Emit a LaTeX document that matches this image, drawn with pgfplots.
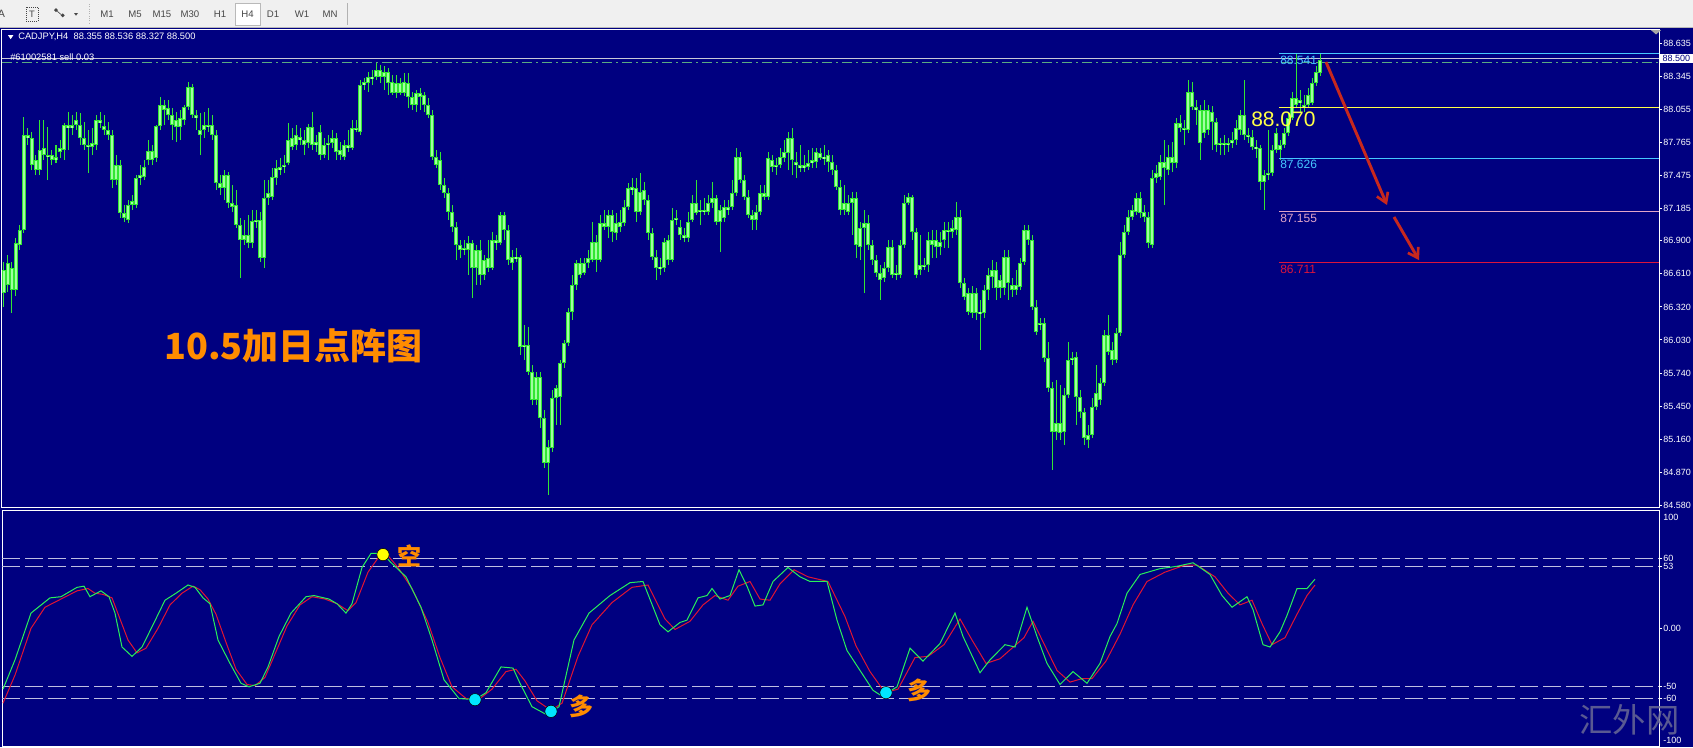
\documentclass[border=0pt]{standalone}
\usepackage{pgfplots}
\pgfplotsset{compat=1.18}
\usepackage{pgfplotstable}
\usepackage{fontspec}
\setmainfont{Liberation Sans}
\newfontfamily\cjk{Noto Sans CJK SC}
\usetikzlibrary{arrows.meta}

\definecolor{navy}{RGB}{0,0,128}
\definecolor{candle}{RGB}{50,230,50}
\definecolor{candlein}{RGB}{160,255,160}
\definecolor{fibcyan}{RGB}{70,200,255}
\definecolor{fibyellow}{RGB}{255,255,70}
\definecolor{fibpink}{RGB}{225,165,200}
\definecolor{fibred}{RGB}{220,20,60}
\definecolor{orderln}{RGB}{90,170,130}
\definecolor{bidln}{RGB}{200,200,215}
\definecolor{arrowred}{RGB}{200,40,30}
\definecolor{lvl}{RGB}{190,190,225}
\definecolor{stochg}{RGB}{40,240,90}
\definecolor{stochr}{RGB}{225,20,50}
\definecolor{dotcyan}{RGB}{0,230,255}
\definecolor{dotyellow}{RGB}{255,255,0}
\definecolor{orangetxt}{RGB}{255,140,0}
\definecolor{wm}{RGB}{105,105,150}
\definecolor{tbbg}{RGB}{240,240,240}
\definecolor{tbtext}{RGB}{70,70,70}

\newcommand{\tk}{\fontsize{6.75pt}{7pt}\selectfont}

% candles: x and y read in screen pixels of the reference (price = 88.635-(y-43)/114)
\pgfplotstableread{
x top bot hi lo
4 270 293 262 307
8 263 285 255 292
12 268 290 262 313
16 243 290 238 296
20 230 245 225 250
24 135 230 117 233
28 135 138 128 145
32 138 165 132 170
36 160 170 155 175
40 150 170 120 175
44 148 155 120 160
48 155 157 127 180
52 155 160 150 165
56 157 160 145 163
60 148 152 140 158
64 125 150 123 160
68 125 128 112 150
72 125 128 115 135
76 120 125 112 130
80 125 138 113 145
84 138 145 122 150
88 145 147 130 173
92 143 147 128 155
96 120 145 115 150
100 120 123 112 128
104 126 130 115 135
108 130 135 122 140
112 135 180 130 188
116 165 180 155 185
120 165 213 160 218
124 213 218 205 222
128 205 220 200 223
132 201 205 195 210
136 178 205 175 208
140 175 178 165 185
144 167 177 160 180
148 151 160 140 165
152 151 160 145 165
156 126 158 125 162
160 105 126 97 130
164 105 110 100 125
168 108 115 100 120
172 115 125 108 140
176 120 127 112 142
180 118 127 110 140
184 107 120 105 125
188 87 107 82 110
192 87 115 84 118
196 115 118 110 130
200 130 135 113 155
204 125 130 112 138
208 125 127 108 132
212 125 135 115 140
216 135 183 130 190
220 183 188 175 195
224 175 188 170 200
228 175 203 172 208
232 203 207 185 212
236 205 225 190 228
240 225 240 218 278
244 235 240 220 245
248 235 243 215 248
252 221 243 210 248
256 220 222 210 228
260 220 258 212 262
264 198 258 180 268
268 193 198 180 205
272 177 197 168 200
276 168 178 160 185
280 167 170 158 175
284 165 167 155 173
288 140 163 123 165
292 138 147 128 150
296 135 145 125 150
300 137 140 128 145
304 140 145 130 155
308 127 143 124 148
312 127 145 112 150
316 142 145 135 152
320 132 155 125 160
324 145 155 138 158
328 143 145 135 160
332 138 143 130 148
336 138 152 133 160
340 150 155 142 160
344 145 157 140 160
348 145 148 130 152
352 128 148 120 150
356 128 130 120 132
360 85 132 80 135
364 82 85 78 90
368 77 83 72 92
372 77 78 70 85
376 70 77 63 80
380 70 77 65 83
384 72 77 66 90
388 72 83 68 95
392 82 93 75 95
396 83 93 75 98
400 83 93 78 95
404 82 93 73 96
408 83 97 73 108
412 97 105 92 110
416 93 105 90 112
420 93 97 88 110
424 95 105 92 112
428 105 115 98 118
432 115 157 110 160
436 157 165 150 168
440 160 185 152 190
444 185 193 178 198
448 193 212 188 220
452 212 227 205 232
456 227 245 222 260
460 245 250 240 258
464 248 250 240 255
468 243 250 236 275
472 243 268 240 298
476 250 268 245 285
480 250 275 240 285
484 260 275 255 280
488 258 268 240 272
492 240 268 232 270
496 240 243 235 250
500 215 243 212 245
504 215 230 212 240
508 230 260 225 265
512 257 263 250 270
516 257 258 248 262
520 257 347 255 355
524 345 347 325 360
528 345 372 327 375
532 372 400 365 405
536 377 400 372 405
540 377 418 372 428
544 418 463 410 468
548 447 463 440 495
552 398 448 390 452
556 388 398 385 425
560 363 397 360 425
564 343 363 340 368
568 312 343 308 346
572 285 312 275 320
576 263 285 260 290
580 263 275 258 278
584 263 273 258 275
588 258 263 250 268
592 242 260 222 262
596 242 260 235 272
600 223 260 215 262
604 223 227 210 230
608 215 227 210 238
612 215 232 210 242
616 223 233 213 240
620 222 227 210 232
624 207 223 200 226
628 188 207 183 210
632 187 190 178 195
636 188 212 178 222
640 192 212 173 215
644 190 200 182 205
648 200 233 195 240
652 233 257 228 260
656 257 268 250 280
660 267 268 258 275
664 242 268 238 272
668 240 260 235 265
672 220 260 208 262
676 218 220 210 225
680 227 235 220 240
684 235 238 228 242
688 222 238 212 242
692 203 220 195 222
696 203 213 180 215
700 210 212 200 225
704 210 212 198 215
708 203 212 195 215
712 198 203 182 208
716 198 222 195 225
720 210 222 205 252
724 207 218 200 222
728 207 210 200 215
732 193 207 180 210
736 157 193 148 196
740 157 180 152 183
744 180 197 175 200
748 197 215 190 218
752 215 220 210 230
756 212 220 205 230
760 193 212 185 215
764 193 197 185 200
768 158 197 152 200
772 160 167 155 172
776 165 167 158 175
780 157 165 148 168
784 152 158 140 162
788 138 153 132 170
792 138 160 128 175
796 162 165 152 178
800 165 168 145 172
804 165 168 155 172
808 163 167 150 170
812 160 163 148 168
816 152 162 148 168
820 153 158 148 160
824 157 158 145 165
828 155 162 150 172
832 162 170 155 175
836 170 187 165 190
840 187 210 180 215
844 203 210 185 215
848 203 212 195 215
852 198 203 192 235
856 198 245 192 258
860 228 247 222 260
864 223 228 210 293
868 223 245 215 250
872 245 260 240 265
876 260 273 255 277
880 273 280 265 300
884 268 278 262 282
888 247 268 240 272
892 247 275 240 278
896 273 275 265 280
900 245 275 240 278
904 203 245 195 248
908 197 203 193 205
912 197 232 195 240
916 232 275 228 278
920 265 270 235 275
924 265 267 258 270
928 240 265 232 272
932 240 245 230 258
936 240 247 230 258
940 242 247 232 255
944 230 240 222 248
948 230 232 222 248
952 228 232 220 238
956 217 230 202 235
960 217 283 210 288
964 283 297 278 300
968 293 312 288 315
972 293 313 286 318
976 293 313 288 320
980 312 313 300 350
984 290 313 285 318
988 275 290 268 300
992 270 277 260 288
996 270 288 262 300
1000 280 288 275 298
1004 257 288 250 295
1008 257 283 250 300
1012 285 290 278 297
1016 285 290 270 295
1020 263 287 258 290
1024 230 262 225 265
1028 230 240 225 245
1032 240 307 235 310
1036 307 332 300 335
1040 323 325 318 330
1044 323 358 318 362
1048 358 388 342 392
1052 388 432 382 470
1056 423 432 380 440
1060 423 433 385 440
1064 395 432 388 445
1068 360 395 342 398
1072 358 360 352 365
1076 357 397 352 425
1080 397 412 390 418
1084 412 438 408 445
1088 435 440 425 448
1092 407 435 398 438
1096 393 407 365 410
1100 383 400 378 405
1104 335 383 330 386
1108 335 352 315 355
1112 350 360 342 365
1116 333 360 328 363
1120 255 333 242 336
1124 232 255 225 258
1128 217 232 210 235
1132 210 217 205 220
1136 198 212 193 215
1140 198 213 192 218
1144 212 217 205 222
1148 217 243 212 248
1152 178 245 170 248
1156 173 178 165 183
1160 162 177 155 180
1164 162 168 140 205
1168 157 170 145 175
1172 157 163 142 172
1176 123 163 118 168
1180 123 128 115 132
1184 128 130 120 145
1188 92 130 80 133
1192 92 107 82 110
1196 107 110 100 125
1200 110 143 105 160
1204 110 133 100 138
1208 110 130 105 135
1212 112 122 106 150
1216 122 145 118 152
1220 143 145 138 155
1224 143 145 135 155
1228 143 145 138 152
1232 140 143 132 148
1236 128 140 120 145
1240 115 130 110 135
1244 115 135 80 140
1248 135 137 128 143
1252 137 147 130 150
1256 147 148 140 158
1260 148 182 145 190
1264 175 182 170 210
1268 173 175 130 180
1272 150 173 145 176
1276 133 150 128 153
1280 145 150 140 160
1284 133 145 128 148
1288 118 133 112 136
1292 98 118 92 120
1296 98 105 53 108
1300 100 103 90 112
1304 105 107 95 112
1308 95 105 88 108
1312 83 103 78 105
1316 72 83 66 86
1320 60 73 54 76
}\candles

\begin{document}
\begin{tikzpicture}
\useasboundingbox (0,0) rectangle (1269.75pt,-560.25pt);
% background
\fill[navy] (0,0) rectangle (1269.75pt,-560.25pt);
% toolbar
\fill[tbbg] (0,0) rectangle (1269.75pt,-20.25pt);
\draw[gray!55, line width=0.75pt] (0,-20.25pt) -- (1269.75pt,-20.25pt);
\node[tbtext, font=\fontsize{8pt}{9pt}\selectfont, anchor=center] at (1pt,-10.5pt) {A};
\draw[tbtext, densely dotted, line width=0.5pt] (19.5pt,-5.25pt) rectangle (28.5pt,-15.75pt);
\node[tbtext, font=\fontsize{7pt}{8pt}\selectfont] at (24pt,-10.5pt) {T};
\fill[tbtext] (42pt,-6pt) -- (43.5pt,-7.5pt) -- (42pt,-9pt) -- (40.5pt,-7.5pt) -- cycle;
\fill[tbtext] (47pt,-10pt) -- (48.5pt,-11.5pt) -- (47pt,-13pt) -- (45.5pt,-11.5pt) -- cycle;
\draw[tbtext, line width=0.5pt] (43pt,-8.5pt) -- (46pt,-11pt);
\fill[tbtext] (55.5pt,-9.75pt) -- (58.5pt,-9.75pt) -- (57pt,-11.75pt) -- cycle;
\draw[gray!60, densely dotted, line width=0.75pt] (66.75pt,-3pt) -- (66.75pt,-18pt);
\fill[white] (176.25pt,-2.25pt) rectangle (195pt,-18.75pt);
\draw[gray!55, line width=0.5pt] (176.25pt,-2.25pt) rectangle (195pt,-18.75pt);
\foreach \lab/\xx in {M1/80.25, M5/101.25, M15/121.5, M30/142.5, H1/165, H4/185.6, D1/204.75, W1/226.5, MN/247.5}
  \node[tbtext, font=\fontsize{7.2pt}{8pt}\selectfont] at (\xx pt,-11pt) {\lab};
\draw[gray!60, line width=0.75pt] (260.25pt,-2.25pt) -- (260.25pt,-19pt);

% ===== main price panel =====
\begin{axis}[
  at={(1.5pt,-21.75pt)}, anchor=north west,
  scale only axis, width=1242.75pt, height=358.5pt,
  xmin=2, xmax=1659, ymin=84.5648, ymax=88.7578,
  axis line style={white, line width=0.75pt},
  xtick=\empty,
  ytick={84.580,84.870,85.160,85.450,85.740,86.030,86.320,86.610,86.900,87.185,87.475,87.765,88.055,88.345,88.635},
  yticklabels={84.580,84.870,85.160,85.450,85.740,86.030,86.320,86.610,86.900,87.185,87.475,87.765,88.055,88.345,88.635},
  ytick pos=right, yticklabel pos=right, tick align=outside,
  major tick length=2.25pt,
  tick style={white, line width=0.75pt},
  yticklabel style={text=white, font=\tk, inner sep=0.75pt},
  clip=false,
]
% bid line and order line
\addplot[bidln, line width=0.6pt] coordinates {(2,88.500) (1659,88.500)};
\addplot[orderln, line width=0.75pt, dash pattern=on 7.5pt off 3pt on 1.5pt off 3pt] coordinates {(2,88.46) (1659,88.46)};
% wicks
\addplot[draw=none, mark=none,
  error bars/.cd, y dir=plus, y explicit, error mark=none,
  error bar style={line width=0.75pt, draw=candle}]
  table[x=x, y expr={88.635-(\thisrow{lo}-43)/114}, y error plus expr={(\thisrow{lo}-\thisrow{hi})/114}] {\candles};
% bodies
\addplot[draw=none, mark=none,
  error bars/.cd, y dir=both, y explicit, error mark=none,
  error bar style={line width=2.4pt, draw=candle}]
  table[x=x, y expr={88.635-((\thisrow{top}+\thisrow{bot})/2-43)/114}, y error expr={max((\thisrow{bot}-\thisrow{top})/2,0.6)/114}] {\candles};
\addplot[draw=none, mark=none,
  error bars/.cd, y dir=both, y explicit, error mark=none,
  error bar style={line width=0.8pt, draw=candlein}]
  table[x=x, y expr={88.635-((\thisrow{top}+\thisrow{bot})/2-43)/114}, y error expr={max((\thisrow{bot}-\thisrow{top})/2-1,0.1)/114}] {\candles};
% level lines
\addplot[fibcyan, line width=0.75pt] coordinates {(1279,88.541) (1659,88.541)};
\addplot[fibyellow, line width=0.75pt] coordinates {(1279,88.070) (1659,88.070)};
\addplot[fibcyan, line width=0.75pt] coordinates {(1279,87.626) (1659,87.626)};
\addplot[fibpink, line width=0.75pt] coordinates {(1279,87.155) (1659,87.155)};
\addplot[fibred, line width=0.9pt] coordinates {(1279,86.711) (1659,86.711)};
\node[fibcyan, font=\fontsize{9pt}{10pt}\selectfont, anchor=west, inner sep=0pt] at (axis cs:1280,88.486) {88.541};
\node[fibyellow, font=\fontsize{15.75pt}{17pt}\selectfont, anchor=west, inner sep=0pt] at (axis cs:1251,87.964) {88.070};
\node[fibcyan, font=\fontsize{9pt}{10pt}\selectfont, anchor=west, inner sep=0pt] at (axis cs:1280,87.574) {87.626};
\node[fibpink, font=\fontsize{9pt}{10pt}\selectfont, anchor=west, inner sep=0pt] at (axis cs:1280,87.100) {87.155};
\node[fibred, font=\fontsize{9pt}{10pt}\selectfont, anchor=west, inner sep=0pt] at (axis cs:1280,86.653) {86.711};
% arrows
\draw[arrowred, line width=2.2pt, -{Straight Barb[length=7pt,width=9pt,line width=2pt]}] (axis cs:1326,88.468) -- (axis cs:1387,87.214);
\draw[arrowred, line width=2.2pt, -{Straight Barb[length=7pt,width=9pt,line width=2pt]}] (axis cs:1394,87.109) -- (axis cs:1419,86.731);
% current price label
\node[fill=white, text=navy, font=\tk, anchor=west, inner xsep=1pt, inner ysep=1.2pt, minimum width=25pt] at (axis cs:1659.5,88.500) {88.500};
\fill[gray!70] (axis cs:1651,88.748) -- (axis cs:1661,88.748) -- (axis cs:1656,88.71) -- cycle;
\end{axis}

% header texts
\fill[white] (6pt,-26.4pt) -- (10pt,-26.4pt) -- (8pt,-29.4pt) -- cycle;
\node[white, font=\fontsize{7pt}{8pt}\selectfont, anchor=west, inner sep=0pt] at (13.5pt,-28pt) {CADJPY,H4\ \ 88.355 88.536 88.327 88.500};
\node[white, font=\fontsize{7pt}{8pt}\selectfont, anchor=west, inner sep=0pt] at (7.5pt,-42.5pt) {\#61002581 sell 0.03};
% big title
\node[orangetxt, font=\fontsize{27pt}{29pt}\selectfont\cjk\bfseries, anchor=west, inner sep=0pt] at (123pt,-259.5pt) {10.5加日点阵图};

% ===== indicator panel =====
\begin{axis}[
  at={(1.5pt,-382.5pt)}, anchor=north west,
  scale only axis, width=1242.75pt, height=177pt,
  xmin=2, xmax=1659, ymin=-100.6, ymax=101.1,
  axis line style={white, line width=0.75pt},
  xtick=\empty,
  ytick={60,53,0,-50,-60},
  yticklabels={60,53,0.00,-50,-60},
  ytick pos=right, yticklabel pos=right, tick align=outside,
  major tick length=2.25pt,
  tick style={white, line width=0.75pt},
  yticklabel style={text=white, font=\tk, inner sep=0.75pt},
  clip=false,
]
\addplot[lvl, line width=0.7pt, dash pattern=on 13.5pt off 3.75pt] coordinates {(2,60) (1659,60)};
\addplot[lvl, line width=0.7pt, dash pattern=on 13.5pt off 3.75pt] coordinates {(2,53) (1659,53)};
\addplot[lvl, line width=0.7pt, dash pattern=on 13.5pt off 3.75pt] coordinates {(2,-50) (1659,-50)};
\addplot[lvl, line width=0.7pt, dash pattern=on 13.5pt off 3.75pt] coordinates {(2,-60) (1659,-60)};
% slow (red) line
\addplot[stochr, line width=0.75pt] coordinates {
(3,-64) (15,-40) (31,0) (45,18) (61,25) (77,32) (88,34) (95,30) (103,29) (112,26) (120,8) (128,-10) (137,-21) (146,-17) (158,0) (170,20) (182,30) (193,36) (200,33) (208,25) (216,12) (226,-12) (236,-35) (247,-48) (255,-49) (265,-42) (275,-22) (287,2) (300,20) (312,27) (325,25) (337,21) (348,15) (356,22) (368,48) (378,60) (388,62) (398,52) (412,34) (428,5) (440,-25) (452,-50) (466,-60) (480,-60) (492,-52) (506,-37) (516,-35) (525,-45) (537,-62) (551,-70) (562,-64) (578,-24) (592,3) (612,22) (632,35) (648,37) (665,8) (675,-1) (690,6) (703,20) (715,28) (728,24) (738,36) (750,40) (760,25) (770,24) (780,38) (794,50) (808,44) (828,40) (845,10) (856,-15) (870,-37) (885,-55) (898,-52) (915,-25) (928,-24) (944,-14) (960,8) (972,-10) (986,-30) (1000,-26) (1012,-17) (1024,-8) (1033,6) (1045,-15) (1057,-36) (1070,-46) (1082,-43) (1092,-43) (1106,-28) (1120,-5) (1133,20) (1147,40) (1165,48) (1185,54) (1197,54) (1215,44) (1228,30) (1240,20) (1252,24) (1262,4) (1272,-14) (1285,-8) (1297,12) (1307,28) (1315,37)};
% fast (green) line
\addplot[stochg, line width=0.75pt] coordinates {
(3,-52) (15,-27) (31,13) (50,26) (61,27) (77,35) (84,36) (90,27) (101,32) (109,27) (115,13) (122,-16) (132,-24) (142,-16) (153,3) (165,24) (176,30) (188,37) (195,35) (203,26) (210,21) (218,-10) (230,-30) (241,-47) (249,-50) (260,-47) (268,-33) (279,-7) (291,13) (306,27) (314,28) (329,25) (337,21) (346,13) (352,21) (362,52) (371,64) (383,64) (390,57) (406,44) (421,18) (432,-10) (444,-44) (459,-60) (475,-61) (486,-55) (501,-33) (513,-34) (520,-47) (532,-67) (547,-74) (559,-67) (574,-10) (589,13) (610,28) (630,39) (643,40) (660,3) (668,-3) (680,5) (687,7) (698,26) (707,28) (712,34) (720,25) (730,28) (739,50) (747,36) (755,19) (763,20) (773,40) (788,52) (800,44) (810,40) (827,40) (837,7) (847,-19) (860,-36) (873,-53) (882,-58) (897,-50) (910,-17) (923,-28) (940,-13) (955,13) (963,-7) (980,-38) (990,-27) (1005,-14) (1015,-16) (1027,18) (1037,-7) (1047,-30) (1060,-48) (1073,-37) (1087,-47) (1100,-30) (1110,-7) (1117,4) (1127,30) (1140,46) (1160,51) (1177,53) (1193,56) (1200,52) (1210,46) (1222,28) (1232,18) (1247,27) (1253,16) (1263,-14) (1270,-16) (1280,-3) (1287,11) (1297,34) (1307,34) (1315,42)};
% signal dots
\addplot[only marks, mark=*, mark size=4.6pt, mark options={fill=dotyellow, draw=none}] coordinates {(383,63)};
\addplot[only marks, mark=*, mark size=4.6pt, mark options={fill=dotcyan, draw=none}] coordinates {(475,-61) (551,-71) (886,-55)};
\node[orangetxt, font=\fontsize{18pt}{19pt}\selectfont\cjk\bfseries, inner sep=0pt] at (axis cs:409,62) {空};
\node[orangetxt, font=\fontsize{18pt}{19pt}\selectfont\cjk\bfseries, inner sep=0pt] at (axis cs:581,-67) {多};
\node[orangetxt, font=\fontsize{18pt}{19pt}\selectfont\cjk\bfseries, inner sep=0pt] at (axis cs:919,-53) {多};
\node[white, font=\tk, anchor=west, inner sep=0.75pt] at (axis cs:1662,95) {100};
\node[white, font=\tk, anchor=west, inner sep=0.75pt] at (axis cs:1662,-96) {-100};
\end{axis}
% watermark
\node[wm, opacity=0.85, font=\fontsize{25pt}{27pt}\selectfont\cjk, inner sep=0pt] at (1222pt,-539.5pt) {汇外网};
\end{tikzpicture}
\end{document}
